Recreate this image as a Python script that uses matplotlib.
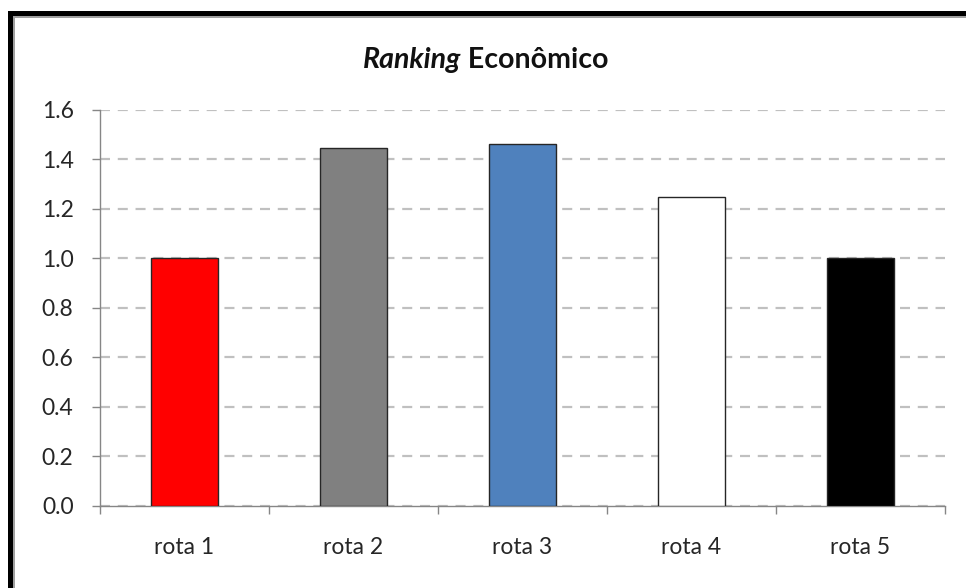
import matplotlib.pyplot as plt
from matplotlib.patches import Rectangle

# Ranking econômico das rotas
rotas = ['rota 1', 'rota 2', 'rota 3', 'rota 4', 'rota 5']
valores = [1.0, 1.445, 1.46, 1.245, 1.0]
cores = ['#FF0000', '#808080', '#4F81BD', '#FFFFFF', '#000000']
yticks = [0.0, 0.2, 0.4, 0.6, 0.8, 1.0, 1.2, 1.4, 1.6]

plt.rcParams['font.family'] = ['Lato', 'DejaVu Sans']

fig = plt.figure(figsize=(9.66, 5.88), dpi=100)
W, H = 966, 588
ax = fig.add_axes([100 / W, 82 / H, 845 / W, 396.5 / H])

x = list(range(len(rotas)))
ax.bar(x, valores, width=0.4, color=cores, edgecolor='#262626', linewidth=1.0, zorder=3)

ax.set_xlim(-0.5, len(rotas) - 0.5)
ax.set_ylim(0, 1.6)
ax.set_yticks(yticks)
ax.set_yticklabels(['%.1f' % v for v in yticks])
ax.yaxis.grid(True, color='#C0C0C0', linewidth=1.6, linestyle=(0, (4.5, 3.5)), zorder=0)

# marcas do eixo x entre as categorias
ax.set_xticks([i - 0.5 for i in range(len(rotas) + 1)])
ax.set_xticklabels([])
ax.set_xticks(x, minor=True)
ax.set_xticklabels(rotas, minor=True)
ax.tick_params(axis='x', which='minor', length=0, pad=22, labelsize=16.5, labelcolor='#262626')
ax.tick_params(axis='x', which='major', length=6, width=1, color='#868686', direction='out')
ax.tick_params(axis='y', length=6, width=1, color='#868686', direction='out', pad=13,
               labelsize=16.5, labelcolor='#262626')

for s in ['top', 'right']:
    ax.spines[s].set_visible(False)
for s in ['left', 'bottom']:
    ax.spines[s].set_color('#868686')
    ax.spines[s].set_linewidth(1)

# título: "Ranking" em itálico
fig.canvas.draw()
r = fig.canvas.get_renderer()
t1 = fig.text(363 / W, 1 - 60 / H, 'Ranking', fontsize=20.5, fontstyle='italic',
              fontweight='bold', va='center', ha='left', color='#111111')
bb = t1.get_window_extent(renderer=r)
fig.text(bb.x1 / W, 1 - 60 / H, ' Econômico', fontsize=20.5, fontweight='bold',
         va='center', ha='left', color='#111111')

# moldura
fig.add_artist(Rectangle((8 / W, 0), 5 / W, 1 - 11 / H, transform=fig.transFigure,
                         color='black', lw=0))
fig.add_artist(Rectangle((8 / W, 1 - 16 / H), 1 - 8 / W, 5 / H, transform=fig.transFigure,
                         color='black', lw=0))
fig.add_artist(Rectangle((13 / W, 0), 1.5 / W, 1 - 16 / H, transform=fig.transFigure,
                         color='#A0A0A0', lw=0))
fig.add_artist(Rectangle((13 / W, 1 - 17.5 / H), 1 - 13 / W, 1.5 / H, transform=fig.transFigure,
                         color='#A0A0A0', lw=0))

fig.savefig('out.png', dpi=100)
